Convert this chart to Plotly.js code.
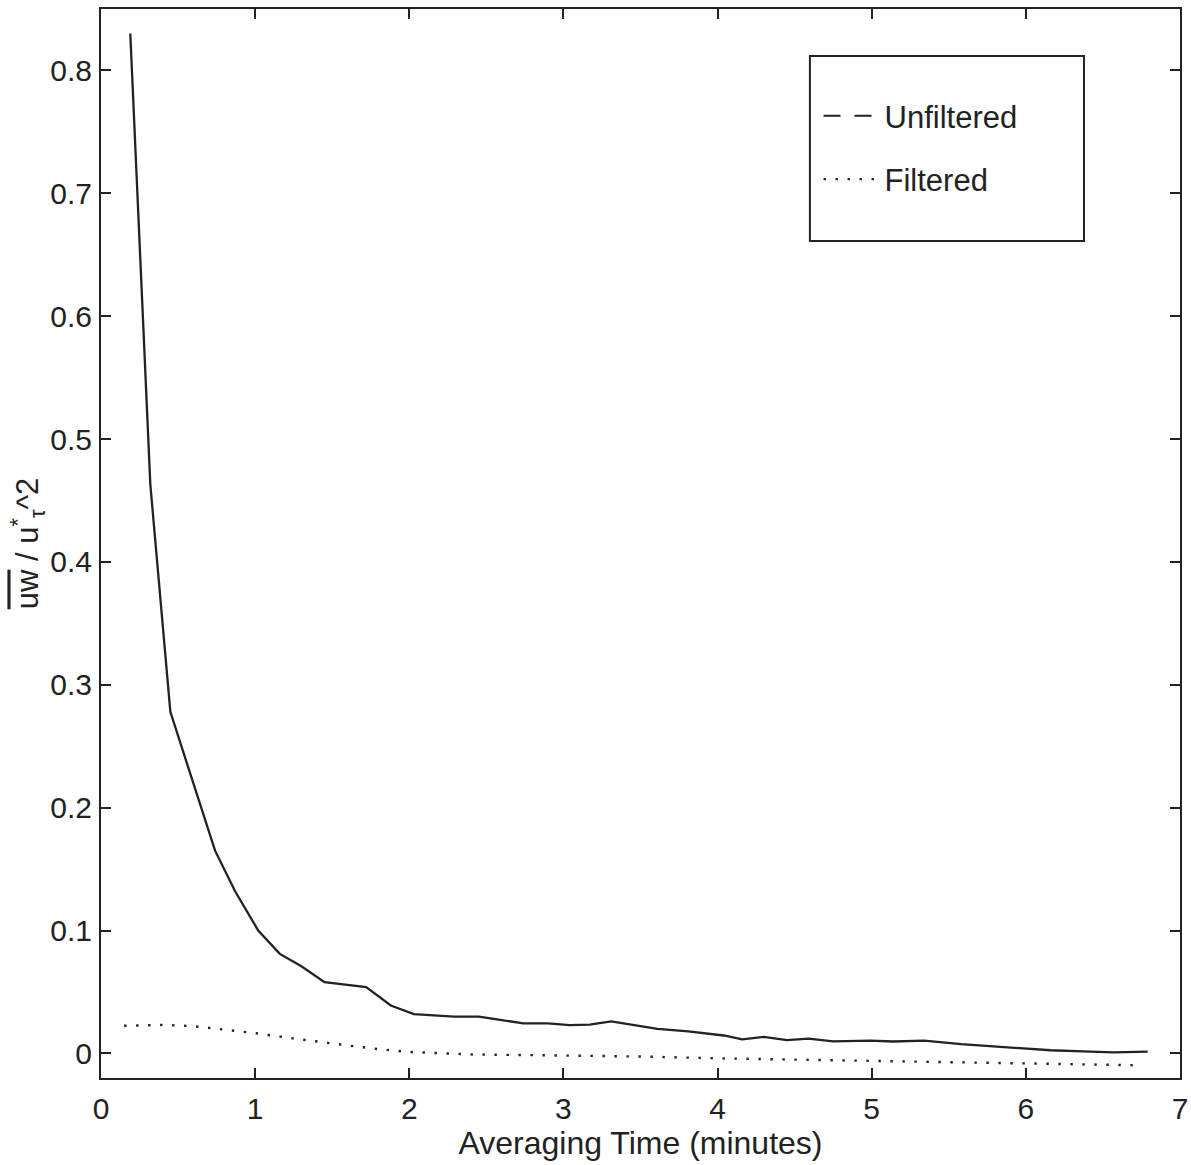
<!DOCTYPE html>
<html>
<head>
<meta charset="utf-8">
<script src="https://cdn.plot.ly/plotly-3.0.1.min.js"></script>
<style>html,body{margin:0;padding:0;background:#fff;}#chart{width:1191px;height:1165px;}</style>
</head>
<body>
<div id="chart"></div>
<script>
// Unfiltered (solid curve)
const unfX = [0.19, 0.32, 0.45, 0.74, 0.87, 1.02, 1.16, 1.30, 1.45, 1.72, 1.88, 2.03, 2.29, 2.45, 2.74, 2.90, 3.04, 3.17, 3.31, 3.61, 3.81, 4.04, 4.16, 4.30, 4.45, 4.59, 4.75, 4.99, 5.14, 5.34, 5.58, 5.88, 6.16, 6.37, 6.57, 6.79];
const unfY = [0.830, 0.463, 0.278, 0.165, 0.132, 0.100, 0.081, 0.071, 0.058, 0.054, 0.039, 0.032, 0.030, 0.030, 0.0245, 0.0245, 0.023, 0.0235, 0.026, 0.020, 0.018, 0.0146, 0.0115, 0.0135, 0.0108, 0.012, 0.0098, 0.0104, 0.0097, 0.0104, 0.0075, 0.0050, 0.0026, 0.0016, 0.0008, 0.0014];
// Filtered (dotted curve)
const filX = [0.15, 0.4, 0.6, 0.8, 1.0, 1.2, 1.4, 1.6, 1.8, 2.0, 2.4, 3.0, 3.5, 4.0, 4.5, 5.0, 5.5, 6.0, 6.5, 6.75];
const filY = [0.0225, 0.0232, 0.0222, 0.0195, 0.0165, 0.0130, 0.0095, 0.0065, 0.0035, 0.0012, -0.0008, -0.0015, -0.0025, -0.0040, -0.0050, -0.0062, -0.0072, -0.0082, -0.0092, -0.0097];
const seriesNames = ['Unfiltered', 'Filtered'];
const xTicks = [0, 1, 2, 3, 4, 5, 6, 7];
const yTicks = [0, 0.1, 0.2, 0.3, 0.4, 0.5, 0.6, 0.7, 0.8];

const ink = '#222222';
const fontFam = '"Liberation Sans", Arial, Helvetica, sans-serif';

const traces = [
  {x: unfX, y: unfY, mode: 'lines', name: seriesNames[0], showlegend: false,
   line: {color: ink, width: 2.3}},
  {x: [null], y: [null], mode: 'lines', name: seriesNames[0], legendgroup: 'a',
   line: {color: ink, width: 2, dash: '17px,14px'}},
  {x: filX, y: filY, mode: 'lines', name: seriesNames[1], legendgroup: 'b',
   line: {color: ink, width: 2.4, dash: '2.4px,9.6px'}}
];

const layout = {
  width: 1191, height: 1165,
  paper_bgcolor: '#fff', plot_bgcolor: '#fff',
  margin: {l: 101, r: 11, t: 9, b: 87},
  font: {family: fontFam, color: ink, size: 30},
  showlegend: true,
  legend: {x: 0.665, y: 0.925, xanchor: 'left', yanchor: 'top',
    bgcolor: 'rgba(0,0,0,0)', borderwidth: 0, itemwidth: 56,
    tracegroupgap: 20, font: {size: 31, family: fontFam, color: ink}},
  shapes: [
    {type: 'rect', xref: 'paper', yref: 'paper', x0: 0.657, x1: 0.911, y0: 0.783, y1: 0.956,
     line: {color: ink, width: 2}, fillcolor: 'rgba(0,0,0,0)'}
  ],
  xaxis: {
    range: [0, 7], tickvals: xTicks, ticktext: xTicks.map(String),
    ticks: 'inside', ticklen: 10, tickwidth: 2, tickcolor: ink,
    showline: true, linecolor: ink, linewidth: 2, mirror: 'ticks',
    showgrid: false, zeroline: false,
    tickfont: {size: 30, family: fontFam, color: ink},
    ticklabelstandoff: 3,
    title: {text: 'Averaging Time (minutes)', font: {size: 32, family: fontFam, color: ink}, standoff: 2}
  },
  yaxis: {
    range: [-0.02, 0.85], tickvals: yTicks, ticktext: yTicks.map(v => v === 0 ? '0' : v.toFixed(1)),
    ticks: 'inside', ticklen: 10, tickwidth: 2, tickcolor: ink,
    showline: true, linecolor: ink, linewidth: 2, mirror: 'ticks',
    showgrid: false, zeroline: false,
    tickfont: {size: 30, family: fontFam, color: ink},
    ticklabelstandoff: 1,
    title: {text: "<span style='text-decoration:overline'>uw</span> / u<sup>*</sup><sub>τ</sub>^2", font: {size: 31, family: fontFam, color: ink}, standoff: 2}
  }
};

Plotly.newPlot('chart', traces, layout, {displayModeBar: false, staticPlot: true});
</script>
</body>
</html>
